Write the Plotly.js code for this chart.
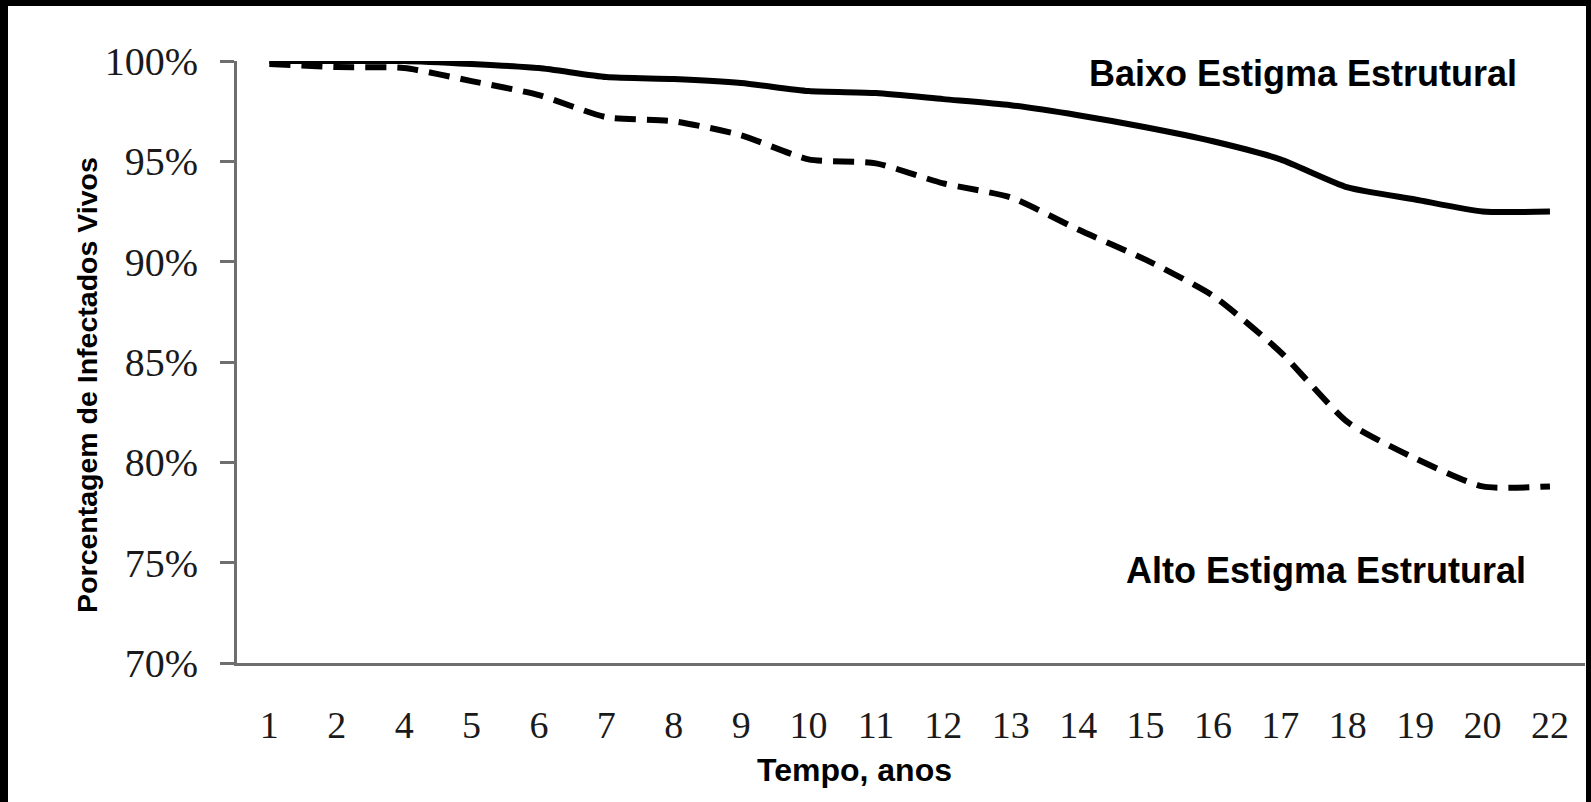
<!DOCTYPE html>
<html>
<head>
<meta charset="utf-8">
<script src="https://cdn.plot.ly/plotly-3.0.1.min.js"></script>
<style>
  html, body { margin: 0; padding: 0; background: #000; width: 1591px; height: 802px; overflow: hidden; }
  #chart { position: absolute; left: 8px; top: 6px; width: 1578px; height: 796px; background: #fff; }
</style>
</head>
<body>
<div id="chart"></div>
<script>
// Tick labels / categories (years)
const anos = ['1','2','4','5','6','7','8','9','10','11','12','13','14','15','16','17','18','19','20','22'];
// Baixo Estigma Estrutural (% alive)
const baixoEstigma = [100, 100, 100, 99.85, 99.65, 99.2, 99.1, 98.9, 98.5, 98.4, 98.1, 97.8, 97.3, 96.7, 96.0, 95.1, 93.7, 93.1, 92.5, 92.5];
// Alto Estigma Estrutural (% alive)
const altoEstigma = [99.85, 99.7, 99.65, 99.0, 98.3, 97.2, 97.0, 96.3, 95.1, 94.9, 93.9, 93.2, 91.6, 90.1, 88.3, 85.5, 82.0, 80.2, 78.8, 78.8];
const yTicks = [70, 75, 80, 85, 90, 95, 100];

const serif = 'Liberation Serif, Times New Roman, serif';
const sans = 'Liberation Sans, Arial, sans-serif';

const traces = [
  {
    x: anos, y: baixoEstigma, type: 'scatter', mode: 'lines',
    name: 'Baixo Estigma Estrutural',
    line: { color: '#000', width: 6, shape: 'spline', smoothing: 0.6 }
  },
  {
    x: anos, y: altoEstigma, type: 'scatter', mode: 'lines',
    name: 'Alto Estigma Estrutural',
    line: { color: '#000', width: 6, dash: '21px,11px', shape: 'spline', smoothing: 0.6 }
  }
];

const layout = {
  width: 1578, height: 796,
  margin: { l: 229, r: 1, t: 55, b: 139 },
  paper_bgcolor: '#fff', plot_bgcolor: '#fff',
  showlegend: false,
  xaxis: {
    type: 'category',
    range: [-0.48, 19.52],
    showline: true, linecolor: '#6e6e6e', linewidth: 3,
    showgrid: false, zeroline: false,
    ticks: '',
    ticklabelstandoff: 26,
    tickfont: { family: serif, size: 38, color: '#1a1a1a' }
  },
  yaxis: {
    range: [70, 100],
    tickvals: yTicks,
    ticktext: yTicks.map(v => v + '%'),
    showline: true, linecolor: '#6e6e6e', linewidth: 3,
    showgrid: false, zeroline: false,
    ticks: 'outside', ticklen: 14, tickwidth: 3, tickcolor: '#6e6e6e',
    ticklabelstandoff: 14,
    tickfont: { family: serif, size: 40, color: '#1a1a1a' }
  },
  annotations: [
    {
      text: 'Porcentagem de Infectados Vivos', textangle: -90,
      xref: 'paper', yref: 'paper', x: 0, y: 0.462, xshift: -150,
      xanchor: 'center', yanchor: 'middle', showarrow: false,
      font: { family: sans, size: 28.5, color: '#000', weight: 'bold' }
    },
    {
      text: 'Tempo, anos',
      xref: 'paper', yref: 'paper', x: 0.458, y: -0.178,
      xanchor: 'center', yanchor: 'middle', showarrow: false,
      font: { family: sans, size: 32, color: '#000', weight: 'bold' }
    },
    {
      text: 'Baixo Estigma Estrutural',
      xref: 'paper', yref: 'paper', x: 0.791, y: 0.98,
      xanchor: 'center', yanchor: 'middle', showarrow: false,
      font: { family: sans, size: 36, color: '#000', weight: 'bold' }
    },
    {
      text: 'Alto Estigma Estrutural',
      xref: 'paper', yref: 'paper', x: 0.808, y: 0.154,
      xanchor: 'center', yanchor: 'middle', showarrow: false,
      font: { family: sans, size: 36, color: '#000', weight: 'bold' }
    }
  ]
};

Plotly.newPlot('chart', traces, layout, { displayModeBar: false, staticPlot: true });
</script>
</body>
</html>
